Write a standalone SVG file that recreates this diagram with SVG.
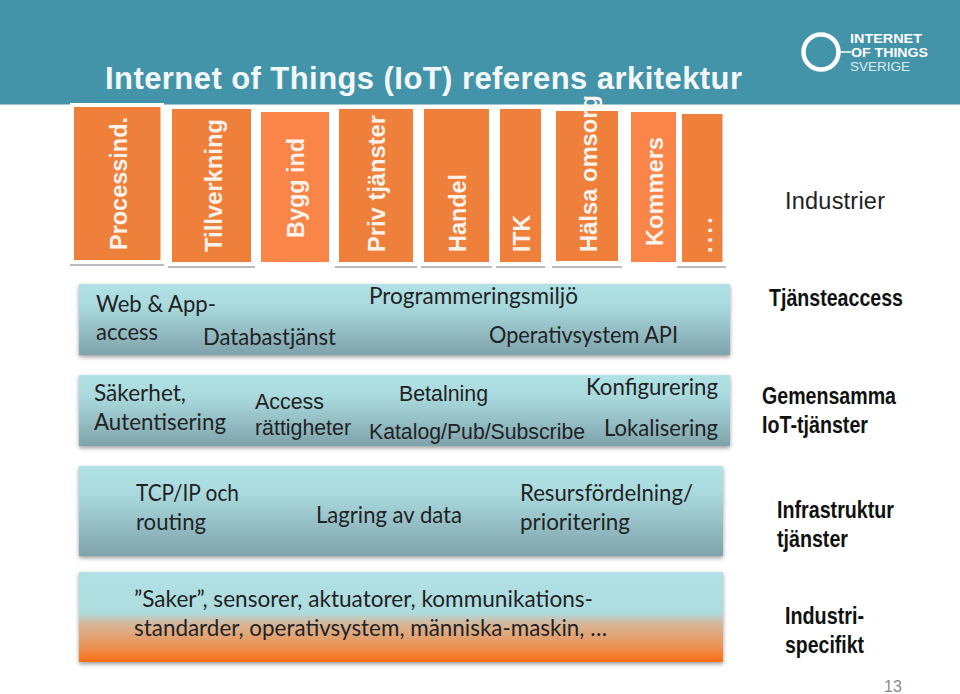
<svg xmlns="http://www.w3.org/2000/svg" width="960" height="694" viewBox="0 0 960 694">
<style>
.o{fill:#ef803c}
.l{fill:#f98549}
.u{stroke:#a3a3ad;stroke-width:1.6;fill:none}
.v{font:bold 23px "Liberation Sans",Arial,sans-serif;fill:#fdf3ec}
.a{font:22.500px Lato,"Open Sans",sans-serif;fill:#1f2326}
.s{font:21.500px "Liberation Sans",Arial,sans-serif;fill:#1f2326}
.r{font:bold 24px "Liberation Sans",Arial,sans-serif;fill:#111}
.k{font-family:"Liberation Sans",Arial,sans-serif;font-size:12px;fill:#fff}
</style>
<defs>
<linearGradient id="g" x1="0" y1="0" x2="0" y2="1"><stop offset="0" stop-color="#b0e1e4"/><stop offset=".3" stop-color="#aadadd"/><stop offset="1" stop-color="#7fa3ab"/></linearGradient>
<linearGradient id="h" x1="0" y1="0" x2="0" y2="1"><stop offset="0" stop-color="#b0e1e4"/><stop offset=".45" stop-color="#aedcdf"/><stop offset=".58" stop-color="#d6b698"/><stop offset=".85" stop-color="#ee8f4e"/><stop offset="1" stop-color="#fd6d10"/></linearGradient>
<filter id="sh" x="-3%" y="-10%" width="106%" height="125%"><feDropShadow dx="0" dy="2" stdDeviation="2" flood-color="#000" flood-opacity=".4"/></filter>
</defs>
<rect width="960" height="694" fill="#fff"/>
<rect id="header" width="960" height="104.500" fill="#4494a9"/>
<text x="105" y="88.500" font-family="'Liberation Sans',Arial,sans-serif" font-weight="bold" font-size="31" fill="#f2f8fa" textLength="637">Internet of Things (IoT) referens arkitektur</text>
<g id="logo">
<circle cx="821" cy="52" r="17.500" fill="none" stroke="#fff" stroke-width="4.500"/>
<line x1="838" y1="52" x2="851" y2="52" stroke="#fff" stroke-width="1.500"/>
<text class="k" x="850" y="43" font-weight="bold" textLength="72" lengthAdjust="spacingAndGlyphs">INTERNET</text>
<text class="k" x="851" y="57" font-weight="bold" textLength="77" lengthAdjust="spacingAndGlyphs">OF THINGS</text>
<text class="k" x="850" y="71" textLength="60" lengthAdjust="spacingAndGlyphs" style="fill:#d9ecf0">SVERIGE</text>
</g>
<rect x="70" y="103" width="94" height="160" fill="#fff"/>
<g id="ind-processind"><rect class="o" x="74" y="107" width="86.500" height="153"/><line class="u" x1="70" y1="265" x2="164" y2="265"/><text class="v" transform="translate(127 250) rotate(-90)" textLength="133" lengthAdjust="spacingAndGlyphs">Processind.</text></g>
<g id="ind-tillverkning"><rect class="o" x="172" y="109" width="79" height="153"/><line class="u" x1="168" y1="267" x2="255" y2="267"/><text class="v" transform="translate(222 252) rotate(-90)" textLength="133" lengthAdjust="spacingAndGlyphs">Tillverkning</text></g>
<g id="ind-bygg"><rect class="l" x="261" y="112" width="68" height="150"/><text class="v" transform="translate(304 238) rotate(-90)" textLength="100" lengthAdjust="spacingAndGlyphs">Bygg ind</text></g>
<g id="ind-priv"><rect class="o" x="339" y="109" width="74" height="153"/><line class="u" x1="335" y1="267" x2="417" y2="267"/><text class="v" transform="translate(385 252) rotate(-90)" textLength="137" lengthAdjust="spacingAndGlyphs">Priv tjänster</text></g>
<g id="ind-handel"><rect class="o" x="424" y="109" width="65" height="153"/><line class="u" x1="421" y1="267" x2="492" y2="267"/><text class="v" transform="translate(466 252) rotate(-90)" textLength="78" lengthAdjust="spacingAndGlyphs">Handel</text></g>
<g id="ind-itk"><rect class="o" x="500" y="109" width="41" height="153"/><line class="u" x1="496" y1="267" x2="545" y2="267"/><text class="v" transform="translate(530 252) rotate(-90)" textLength="37" lengthAdjust="spacingAndGlyphs">ITK</text></g>
<g id="ind-halsa"><rect class="o" x="556" y="111" width="62" height="150"/><line class="u" x1="552" y1="267" x2="622" y2="267"/><text class="v" transform="translate(597 252) rotate(-90)" textLength="157" lengthAdjust="spacingAndGlyphs">Hälsa omsorg</text></g>
<g id="ind-kommers"><rect class="l" x="631" y="112" width="45" height="150"/><text class="v" transform="translate(663 246) rotate(-90)" textLength="109" lengthAdjust="spacingAndGlyphs">Kommers</text></g>
<g id="ind-more"><rect class="o" x="682" y="114" width="40.500" height="148"/><line class="u" x1="677" y1="267" x2="726" y2="267"/><text class="v" transform="translate(712 253) rotate(-90)" letter-spacing="3.400">....</text></g>
<text id="industrier" x="785" y="209" font-family="'Liberation Sans',Arial,sans-serif" font-size="23.500" fill="#222" textLength="100">Industrier</text>

<g id="band-tjanst"><rect x="79" y="284" width="651" height="71" fill="url(#g)" filter="url(#sh)"/>
<text class="a" x="96" y="312" textLength="120" lengthAdjust="spacingAndGlyphs">Web &amp; App-</text><text class="a" x="96" y="340" textLength="62" lengthAdjust="spacingAndGlyphs">access</text>
<text class="a" x="203" y="345" textLength="133" lengthAdjust="spacingAndGlyphs">Databastjänst</text><text class="a" x="369" y="304" textLength="209" lengthAdjust="spacingAndGlyphs">Programmeringsmiljö</text><text class="a" x="489" y="343" textLength="189" lengthAdjust="spacingAndGlyphs">Operativsystem API</text></g>
<g id="band-gemensamma"><rect x="79" y="375" width="651" height="71" fill="url(#g)" filter="url(#sh)"/>
<text class="a" x="94" y="401" textLength="92" lengthAdjust="spacingAndGlyphs">Säkerhet,</text><text class="a" x="94" y="430" textLength="132" lengthAdjust="spacingAndGlyphs">Autentisering</text>
<text class="s" x="255" y="409" textLength="69" lengthAdjust="spacingAndGlyphs">Access</text><text class="s" x="255" y="435" textLength="96" lengthAdjust="spacingAndGlyphs">rättigheter</text>
<text class="s" x="399" y="401" textLength="89" lengthAdjust="spacingAndGlyphs">Betalning</text><text class="s" x="369" y="439" textLength="216" lengthAdjust="spacingAndGlyphs">Katalog/Pub/Subscribe</text>
<text class="a" x="586" y="395" textLength="132" lengthAdjust="spacingAndGlyphs">Konfigurering</text><text class="a" x="604" y="436" textLength="114" lengthAdjust="spacingAndGlyphs">Lokalisering</text></g>
<g id="band-infra"><rect x="79" y="466" width="644" height="90" fill="url(#g)" filter="url(#sh)"/>
<text class="a" x="136" y="501" textLength="103" lengthAdjust="spacingAndGlyphs">TCP/IP och</text><text class="a" x="136" y="530" textLength="70" lengthAdjust="spacingAndGlyphs">routing</text>
<text class="a" x="316" y="523" textLength="146" lengthAdjust="spacingAndGlyphs">Lagring av data</text>
<text class="a" x="520" y="501" textLength="173" lengthAdjust="spacingAndGlyphs">Resursfördelning/</text><text class="a" x="520" y="530" textLength="110" lengthAdjust="spacingAndGlyphs">prioritering</text></g>
<g id="band-saker"><rect x="79" y="572" width="644" height="90" fill="url(#h)" filter="url(#sh)"/>
<text class="a" x="134" y="607" textLength="459" lengthAdjust="spacingAndGlyphs">”Saker”, sensorer, aktuatorer, kommunikations-</text>
<text class="a" x="134" y="636" textLength="473" lengthAdjust="spacingAndGlyphs">standarder, operativsystem, människa-maskin, …</text></g>

<g id="labels">
<text class="r" x="769" y="306" textLength="134" lengthAdjust="spacingAndGlyphs">Tjänsteaccess</text>
<text class="r" x="762" y="404" textLength="134" lengthAdjust="spacingAndGlyphs">Gemensamma</text>
<text class="r" x="762" y="433" textLength="106" lengthAdjust="spacingAndGlyphs">IoT-tjänster</text>
<text class="r" x="777" y="518" textLength="117" lengthAdjust="spacingAndGlyphs">Infrastruktur</text>
<text class="r" x="777" y="547" textLength="71" lengthAdjust="spacingAndGlyphs">tjänster</text>
<text class="r" x="785" y="624" textLength="79" lengthAdjust="spacingAndGlyphs">Industri-</text>
<text class="r" x="785" y="653" textLength="79" lengthAdjust="spacingAndGlyphs">specifikt</text>
</g>
<text id="page" x="884" y="692" font-family="'Liberation Sans',Arial,sans-serif" font-size="16" fill="#8a8a8a">13</text>
</svg>
